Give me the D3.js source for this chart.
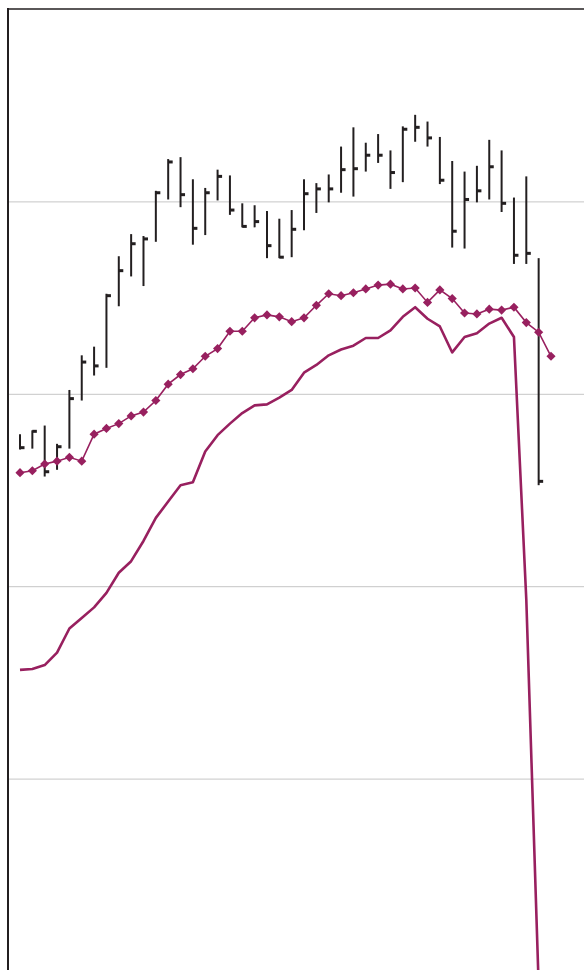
<!DOCTYPE html>
<html>
<head>
<meta charset="utf-8">
<script src="https://cdn.jsdelivr.net/npm/d3@7"></script>
<style>
  html, body { margin: 0; padding: 0; background: #fff; }
  svg { display: block; }
</style>
</head>
<body>
<script>
// price bars (high / low / close), one per period
var barHigh = [55.8, 56.2, 56.7, 54.8, 60.4, 64.0, 64.9, 70.4, 74.3, 76.6, 76.4, 81.1, 84.4, 84.6, 82.3, 81.4, 83.3, 82.7, 79.8, 79.6, 79.0, 78.2, 79.1, 82.3, 81.9, 82.8, 85.7, 87.7, 86.1, 87.0, 85.3, 87.8, 89.0, 88.3, 86.7, 84.2, 83.1, 83.7, 86.4, 85.3, 80.4, 82.6, 74.1];
var barLow = [54.2, 54.3, 51.4, 52.1, 54.3, 59.3, 61.9, 62.7, 69.1, 72.2, 71.2, 75.8, 80.2, 79.4, 75.5, 76.5, 80.1, 78.6, 77.3, 77.3, 74.1, 74.1, 74.2, 77.0, 78.8, 79.9, 80.9, 80.5, 83.1, 84.0, 81.3, 82.0, 86.2, 85.7, 81.8, 75.2, 75.1, 79.9, 80.2, 78.9, 73.5, 73.5, 50.5];
var barClose = [54.4, 56.1, 51.9, 54.5, 59.5, 63.3, 62.9, 70.2, 72.8, 75.6, 76.1, 80.9, 84.1, 80.7, 77.2, 80.9, 82.6, 79.1, 77.4, 77.9, 75.4, 74.2, 77.1, 80.8, 81.3, 81.3, 83.3, 83.4, 84.8, 84.8, 83.0, 87.5, 87.7, 86.6, 82.2, 76.9, 80.2, 81.1, 83.6, 79.8, 74.4, 74.6, 50.9];

// line with diamond markers
var markerSeries = [51.8, 52.0, 52.7, 53.0, 53.4, 53.0, 55.8, 56.4, 56.9, 57.7, 58.1, 59.3, 61.0, 62.0, 62.6, 63.9, 64.7, 66.5, 66.5, 67.9, 68.2, 68.0, 67.5, 67.9, 69.2, 70.4, 70.2, 70.5, 70.9, 71.3, 71.4, 70.9, 71.0, 69.5, 70.8, 69.9, 68.4, 68.3, 68.8, 68.7, 69.0, 67.4, 66.4, 63.9];

// heavy line
var heavySeries = [31.3, 31.4, 31.8, 33.1, 35.6, 36.7, 37.8, 39.3, 41.4, 42.6, 44.7, 47.1, 48.8, 50.5, 50.8, 54.0, 55.7, 56.9, 58.0, 58.8, 58.9, 59.6, 60.4, 62.2, 63.0, 64.0, 64.6, 65.0, 65.8, 65.8, 66.6, 68.0, 69.0, 67.8, 67.0, 64.3, 65.9, 66.3, 67.3, 67.9, 65.9, 38.6, -1.5];

var gridValues = [20, 40, 60, 80];

var W = 584, H = 970;
var AX_LEFT = 8, AX_TOP = 9;
var INK = "#231f20", PLUM = "#98205f";

var x = d3.scaleLinear().domain([0, 43]).range([20, 551]);
var y = d3.scaleLinear().domain([0, 100]).range([971, AX_TOP]);

var svg = d3.select("body").append("svg")
    .attr("width", W)
    .attr("height", H);

svg.append("defs").append("clipPath").attr("id", "plot")
    .append("rect")
    .attr("x", AX_LEFT).attr("y", AX_TOP)
    .attr("width", W - AX_LEFT).attr("height", H - AX_TOP);

// gridlines
svg.append("g")
    .attr("transform", "translate(" + AX_LEFT + ",0)")
    .call(d3.axisLeft(y).tickValues(gridValues).tickSize(-(W - AX_LEFT)).tickFormat(""))
    .call(function (g) { g.select(".domain").remove(); })
    .call(function (g) { g.selectAll("line").attr("stroke", "#c6c6c6").attr("stroke-width", 1); });

var plot = svg.append("g").attr("clip-path", "url(#plot)");

// OHLC bars
var idx = d3.range(barHigh.length);
plot.selectAll("line.bar")
    .data(idx)
    .enter()
    .append("line")
    .attr("class", "bar")
    .attr("x1", function (i) { return x(i); })
    .attr("x2", function (i) { return x(i); })
    .attr("y1", function (i) { return y(barHigh[i]); })
    .attr("y2", function (i) { return y(barLow[i]); })
    .attr("stroke", INK)
    .attr("stroke-width", 2);
plot.selectAll("rect.close")
    .data(idx)
    .enter()
    .append("rect")
    .attr("class", "close")
    .attr("x", function (i) { return x(i); })
    .attr("y", function (i) { return y(barClose[i]) - 1.5; })
    .attr("width", 4.5)
    .attr("height", 3)
    .attr("fill", INK);

// heavy line
plot.append("path")
    .datum(heavySeries)
    .attr("fill", "none")
    .attr("stroke", PLUM)
    .attr("stroke-width", 2.6)
    .attr("stroke-linejoin", "round")
    .attr("d", d3.line().x(function (d, i) { return x(i); }).y(function (d) { return y(d); }));

// marker line
plot.append("path")
    .datum(markerSeries)
    .attr("fill", "none")
    .attr("stroke", PLUM)
    .attr("stroke-width", 1.6)
    .attr("d", d3.line().x(function (d, i) { return x(i); }).y(function (d) { return y(d); }));
plot.selectAll("path.diamond")
    .data(markerSeries)
    .enter()
    .append("path")
    .attr("class", "diamond")
    .attr("transform", function (d, i) { return "translate(" + x(i) + "," + y(d) + ") rotate(45)"; })
    .attr("d", d3.symbol().type(d3.symbolSquare).size(42))
    .attr("fill", PLUM);

// frame: left axis and top rule
svg.append("line")
    .attr("x1", AX_LEFT).attr("x2", AX_LEFT)
    .attr("y1", AX_TOP - 1).attr("y2", H)
    .attr("stroke", INK).attr("stroke-width", 2);
svg.append("line")
    .attr("x1", AX_LEFT - 1).attr("x2", W)
    .attr("y1", AX_TOP).attr("y2", AX_TOP)
    .attr("stroke", INK).attr("stroke-width", 1.5);
</script>
</body>
</html>
